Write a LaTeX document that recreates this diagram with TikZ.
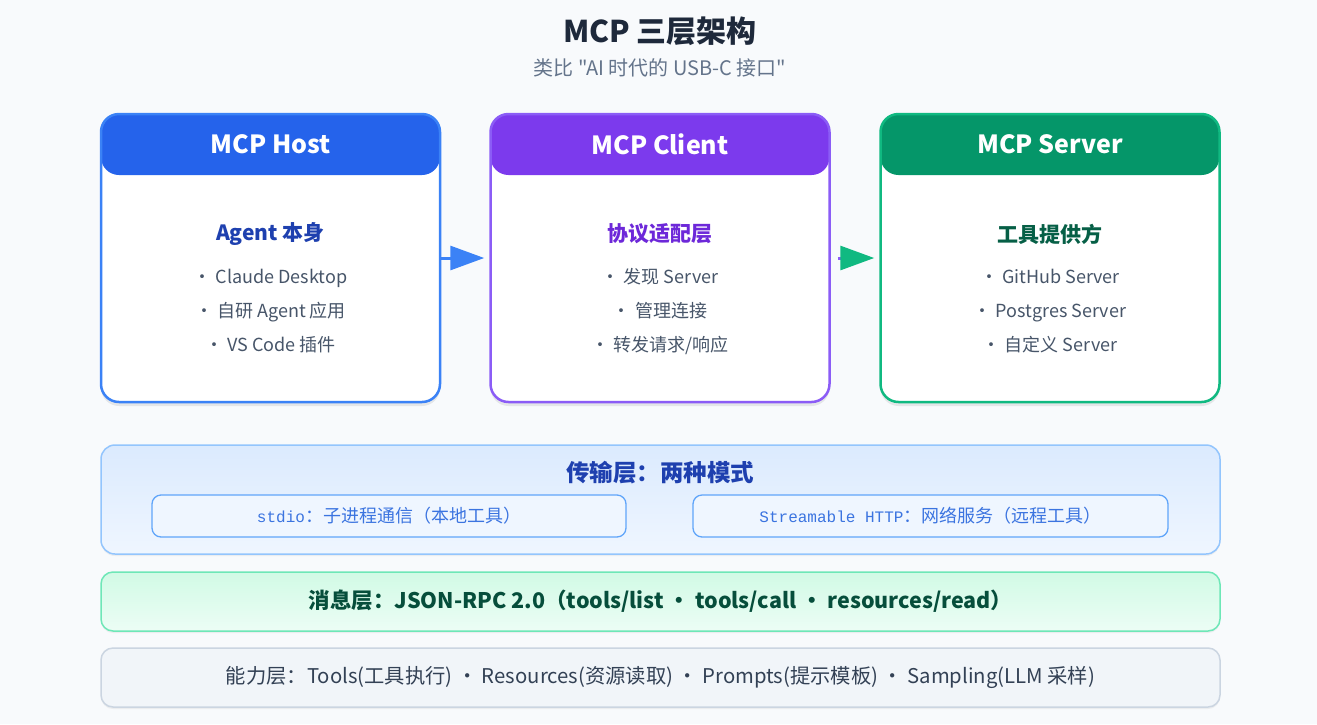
\documentclass[tikz,border=0pt]{standalone}
\usepackage{fontspec}
\setmainfont{Noto Sans CJK SC}
\newfontfamily\plainf{Noto Sans CJK SC}
\newfontfamily\monof{Liberation Mono}
\usetikzlibrary{arrows.meta,shadows}
\definecolor{bg}{HTML}{F8FAFC}
\definecolor{titlec}{HTML}{1E293B}
\definecolor{subc}{HTML}{64748B}
\definecolor{hosth}{HTML}{2563EB}
\definecolor{hostb}{HTML}{3B82F6}
\definecolor{hosts}{HTML}{1E40AF}
\definecolor{clih}{HTML}{7C3AED}
\definecolor{clib}{HTML}{8B5CF6}
\definecolor{clis}{HTML}{6D28D9}
\definecolor{srvh}{HTML}{059669}
\definecolor{srvb}{HTML}{10B981}
\definecolor{srvs}{HTML}{065F46}
\definecolor{bulc}{HTML}{475569}
\definecolor{trtop}{HTML}{DBEAFE}
\definecolor{trbot}{HTML}{EFF6FF}
\definecolor{trb}{HTML}{93C5FD}
\definecolor{trin}{HTML}{60A5FA}
\definecolor{trtx}{HTML}{3B74E0}
\definecolor{mstop}{HTML}{D1FAE5}
\definecolor{msbot}{HTML}{ECFDF5}
\definecolor{msb}{HTML}{6EE7B7}
\definecolor{mstx}{HTML}{064E3B}
\definecolor{capf}{HTML}{F1F5F9}
\definecolor{capb}{HTML}{CBD5E1}
\definecolor{captx}{HTML}{334155}
\begin{document}
\begin{tikzpicture}[x=1pt,y=-1pt,
  card/.style={rounded corners=18pt, line width=2.5pt, fill=white,
    minimum width=339pt, minimum height=288pt, inner sep=0pt,
    drop shadow={shadow xshift=0pt,shadow yshift=-4pt,opacity=0.08,fill=black}},
  hdr/.style={path picture={\fill[#1] (path picture bounding box.north west) rectangle ([yshift=-61pt]path picture bounding box.north east);}},
  hdrtext/.style={text=white, font=\fontsize{25}{30}\selectfont\bfseries},
  subtext/.style={font=\fontsize{21}{25}\selectfont\bfseries},
  bullet/.style={text=bulc, font=\fontsize{18}{22}\selectfont, text height=14pt, text depth=4pt},
  layer/.style={rounded corners=14pt, line width=1.5pt, minimum width=1119pt, inner sep=0pt,
    drop shadow={shadow xshift=0pt,shadow yshift=-2pt,opacity=0.05,fill=black}},
  innerbox/.style={rounded corners=9pt, line width=1.3pt, draw=trin, fill=trbot,
    minimum height=42pt, inner sep=0pt, text=trtx, font=\fontsize{18}{20}\selectfont},
  flow/.style={line width=3pt, shorten >=5pt}
]
\useasboundingbox[fill=bg] (0,0) rectangle (1317,724);

\node[text=titlec, font=\fontsize{30}{34}\selectfont\bfseries] (title) at (660,31) {MCP 三层架构};
\node[text=subc, font=\plainf\fontsize{20}{24}\selectfont] (subtitle) at (660,68) {类比 "AI 时代的 USB-C 接口"};

% cards
\node[card, draw=hostb, hdr=hosth] (host) at (270.5,258) {};
\node[card, draw=clib, hdr=clih] (client) at (660,258) {};
\node[card, draw=srvb, hdr=srvh] (server) at (1050,258) {};

\node[hdrtext] (hostT) at (270.5,144) {MCP Host};
\node[hdrtext] (clientT) at (660,144) {MCP Client};
\node[hdrtext] (serverT) at (1050,144) {MCP Server};

\node[subtext, text=hosts] (hostS) at (270.5,234) {Agent 本身};
\node[subtext, text=clis] (clientS) at (660,234) {协议适配层};
\node[subtext, text=srvs] (serverS) at (1050,234) {工具提供方};

\node[bullet] (h1) at (270.5,278) {・ Claude Desktop};
\node[bullet] (h2) at (270.5,312) {・ 自研 Agent 应用};
\node[bullet] (h3) at (270.5,346) {・ VS Code 插件};

\node[bullet] (c1) at (660,278) {・ 发现 Server};
\node[bullet] (c2) at (660,312) {・ 管理连接};
\node[bullet] (c3) at (660,346) {・ 转发请求/响应};

\node[bullet] (s1) at (1050,278) {・ GitHub Server};
\node[bullet] (s2) at (1050,312) {・ Postgres Server};
\node[bullet] (s3) at (1050,346) {・ 自定义 Server};

% arrows
\draw[flow, hostb, -{Triangle[length=34pt,width=24pt]}] (host.east) -- (client.west);
\draw[flow, clib, shorten <=7pt, -{Triangle[length=34pt,width=24pt,color=srvb]}] (client.east) -- (server.west);

% transport layer
\node[layer, draw=trb, top color=trtop, bottom color=trbot, minimum height=109pt] (trans) at (660.5,499.5) {};
\node[text=hosts, font=\fontsize{23.5}{27}\selectfont\bfseries] (transT) at (660,473) {传输层：两种模式};
\node[innerbox, minimum width=474pt] (stdio) at (389,516) {{\monof\fontsize{16}{20}\selectfont stdio}：子进程通信（本地工具）};
\node[innerbox, minimum width=475pt] (http) at (930.5,516) {{\monof\fontsize{16}{20}\selectfont Streamable HTTP}：网络服务（远程工具）};

% message layer
\node[layer, rounded corners=12pt, draw=msb, top color=mstop, bottom color=msbot, minimum height=59pt,
  text=mstx, font=\fontsize{21.5}{25}\selectfont\bfseries] (msg) at (660.5,601.5)
  {消息层：JSON-RPC 2.0（tools/list ・ tools/call ・ resources/read）};

% capability layer
\node[layer, rounded corners=12pt, draw=capb, fill=capf, minimum height=59pt,
  text=captx, font=\fontsize{20.3}{24}\selectfont] (cap) at (660.5,677.5)
  {能力层：Tools(工具执行) ・ Resources(资源读取) ・ Prompts(提示模板) ・ Sampling(LLM 采样)};
\end{tikzpicture}
\end{document}
